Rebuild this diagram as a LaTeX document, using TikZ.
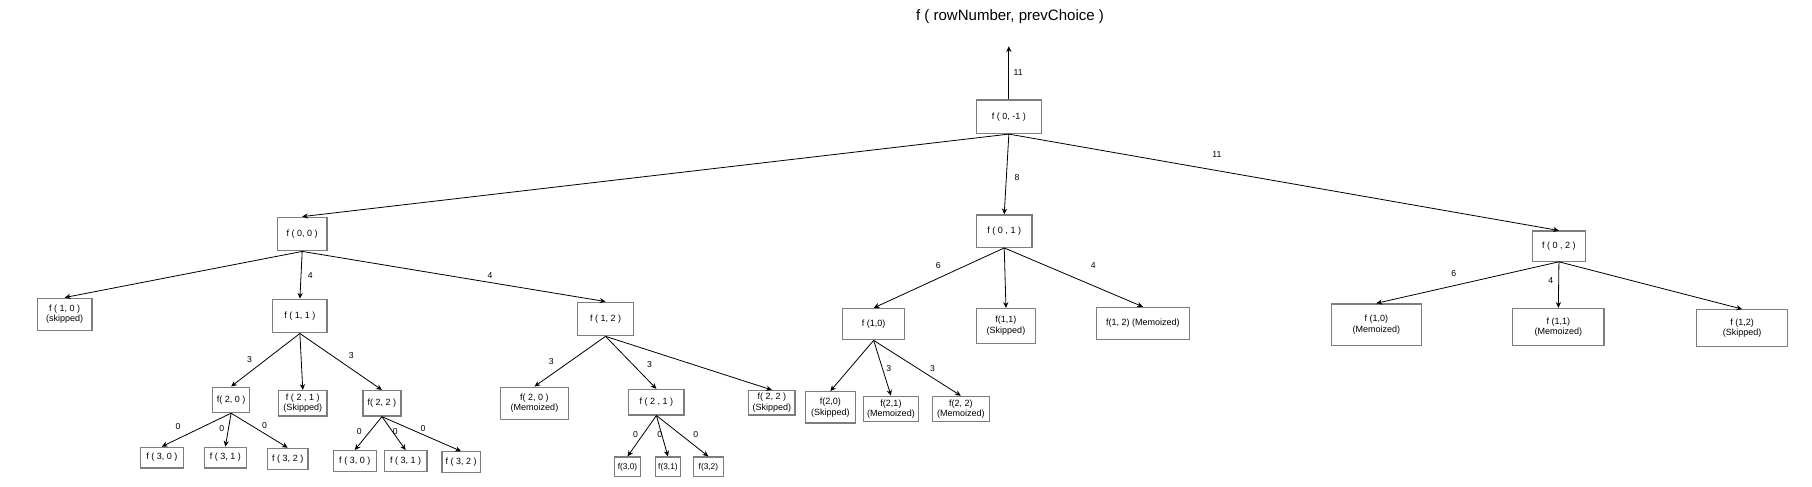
\documentclass[tikz,border=0pt]{standalone}
\usepackage{fontspec}
\setmainfont{Liberation Sans}
\usetikzlibrary{arrows.meta}
\definecolor{boxgray}{RGB}{125,125,125}
\begin{document}
\begin{tikzpicture}[x=1pt,y=-1pt,
  box/.style={draw=boxgray, line width=1.1pt, fill=white, inner sep=0pt, align=center,
    font=\fontsize{7.8}{9.2}\selectfont},
  wh/.style 2 args={minimum width=#1pt, minimum height=#2pt},
  small/.style={font=\fontsize{7.2}{8.6}\selectfont},
  edge/.style={draw=black, line width=0.7pt, -{Stealth[length=5pt,width=4.5pt]}},
  lbl/.style={font=\fontsize{7.5}{9}\selectfont, inner sep=0pt}]
\useasboundingbox (0,0) rectangle (1568,421);

\node[font=\fontsize{13}{15}\selectfont] (title) at (874,14) {f ( rowNumber, prevChoice )};

% level 0
\node[box, wh={56}{29}] (root) at (873,101) {f ( 0, -1 )};
\coordinate (top) at (873,40);

% level 1
\node[box, wh={43}{29}] (a) at (261.5,202.5) {f ( 0, 0 )};
\node[box, wh={48}{28}] (b) at (869,200) {f ( 0 , 1 )};
\node[box, wh={46}{26}] (c) at (1349,213) {f ( 0 , 2 )};

% under a
\node[box, wh={47}{28}] (a0) at (56,272) {f ( 1, 0 )\\(skipped)};
\node[box, wh={47}{29}] (a1) at (259.5,273.5) {f ( 1, 1 )};
\node[box, wh={48}{29}] (a2) at (524,276) {f ( 1, 2 )};

\node[box, wh={32}{22}] (a10) at (200,346) {f( 2, 0 )};
\node[box, wh={42}{22}] (a11) at (262,349) {f ( 2 , 1 )\\(Skipped)};
\node[box, wh={33}{22}] (a12) at (330.5,349) {f( 2, 2 )};

\node[box, wh={37}{18}] (a100) at (140,396) {f ( 3, 0 )};
\node[box, wh={36}{18}] (a101) at (195,396) {f ( 3, 1 )};
\node[box, wh={35}{18}] (a102) at (249,397) {f ( 3, 2 )};
\node[box, wh={37}{18}] (a120) at (307,399) {f ( 3, 0 )};
\node[box, wh={37}{18}] (a121) at (351,399) {f ( 3, 1 )};
\node[box, wh={33}{18}] (a122) at (399,400) {f ( 3, 2 )};

\node[box, wh={59}{28}] (a20) at (462.5,349) {f( 2, 0 )\\(Memoized)};
\node[box, wh={48}{22}] (a21) at (568,348) {f ( 2 , 1 )};
\node[box, wh={40}{21}] (a22) at (668,348.5) {f( 2, 2 )\\(Skipped)};

\node[box, small, wh={23}{17}] (a210) at (543,404) {f(3,0)};
\node[box, small, wh={22}{17}] (a211) at (578,404) {f(3,1)};
\node[box, small, wh={26}{17}] (a212) at (613,404) {f(3,2)};

% under b
\node[box, wh={54}{27}] (b0) at (756,280.5) {f (1,0)};
\node[box, wh={51}{30}] (b1) at (870.5,282) {f(1,1)\\(Skipped)};
\node[box, wh={80}{28}] (b2) at (989,280) {f(1, 2) (Memoized)};

\node[box, wh={43}{27}] (b00) at (718.5,352.5) {f(2,0)\\(Skipped)};
\node[box, wh={48}{22}] (b01) at (771,354) {f(2,1)\\(Memoized)};
\node[box, wh={49}{22}] (b02) at (831.5,354) {f(2, 2)\\(Memoized)};

% under c
\node[box, wh={78}{36}] (c0) at (1191,281) {f (1,0)\\(Memoized)};
\node[box, wh={79}{32}] (c1) at (1348.5,283) {f (1,1)\\(Memoized)};
\node[box, wh={79}{32}] (c2) at (1507.5,284) {f (1,2)\\(Skipped)};

% edges
\draw[edge] (root.north) -- (top);
\draw[edge] (root.south) -- (a.north);
\draw[edge] (root.south) -- (b.north);
\draw[edge] (root.south) -- (c.north);

\draw[edge] (a.south) -- (a0.north);
\draw[edge] (a.south) -- (a1.north);
\draw[edge] (a.south) -- (a2.north);

\draw[edge] (a1.south) -- (a10.north);
\draw[edge] (a1.south) -- (a11.north);
\draw[edge] (a1.south) -- (a12.north);

\draw[edge] (a10.south) -- (a100.north);
\draw[edge] (a10.south) -- (a101.north);
\draw[edge] (a10.south) -- (a102.north);
\draw[edge] (a12.south) -- (a120.north);
\draw[edge] (a12.south) -- (a121.north);
\draw[edge] (a12.south) -- (a122.north);

\draw[edge] (a2.south) -- (a20.north);
\draw[edge] (a2.south) -- (a21.north);
\draw[edge] (a2.south) -- (a22.north);

\draw[edge] (a21.south) -- (a210.north);
\draw[edge] (a21.south) -- (a211.north);
\draw[edge] (a21.south) -- (a212.north);

\draw[edge] (b.south) -- (b0.north);
\draw[edge] (b.south) -- (b1.north);
\draw[edge] (b.south) -- (b2.north);

\draw[edge] (b0.south) -- (b00.north);
\draw[edge] (b0.south) -- (b01.north);
\draw[edge] (b0.south) -- (b02.north);

\draw[edge] (c.south) -- (c0.north);
\draw[edge] (c.south) -- (c1.north);
\draw[edge] (c.south) -- (c2.north);

% edge labels
\node[lbl] (l1) at (881,63) {11};
\node[lbl] (l2) at (880,154) {8};
\node[lbl] (l3) at (1053,134) {11};
\node[lbl] (l4) at (268.5,238) {4};
\node[lbl] (l5) at (424,238) {4};
\node[lbl] (l6) at (216,311) {3};
\node[lbl] (l7) at (304,308) {3};
\node[lbl] (l8) at (154,369) {0};
\node[lbl] (l9) at (192,371) {0};
\node[lbl] (l10) at (229,368) {0};
\node[lbl] (l11) at (311,373) {0};
\node[lbl] (l12) at (342,373) {0};
\node[lbl] (l13) at (366,371) {0};
\node[lbl] (l14) at (477,313) {3};
\node[lbl] (l15) at (562,315) {3};
\node[lbl] (l16) at (550,376) {0};
\node[lbl] (l17) at (571,376) {0};
\node[lbl] (l18) at (602,376) {0};
\node[lbl] (l19) at (812,230) {6};
\node[lbl] (l20) at (946,230) {4};
\node[lbl] (l21) at (769,319) {3};
\node[lbl] (l22) at (807,319) {3};
\node[lbl] (l23) at (1258,237) {6};
\node[lbl] (l24) at (1342,243) {4};
\end{tikzpicture}
\end{document}
